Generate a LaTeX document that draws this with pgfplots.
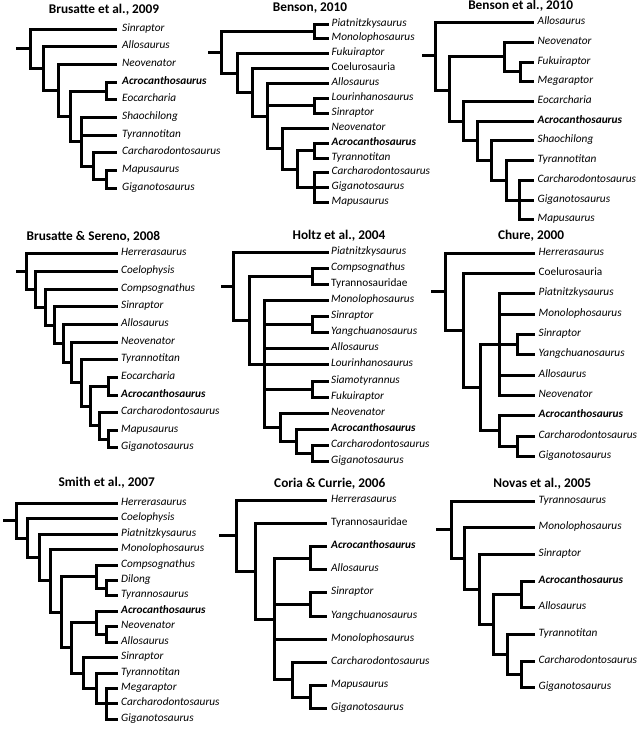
\documentclass[border=0pt]{standalone}
\usepackage{fontspec}
\setmainfont{Carlito}
\usepackage{pgfplots}
\pgfplotsset{compat=1.18}
\newcommand\lblfont{\fontsize{11.3bp}{13bp}\selectfont\itshape}
\newcommand\ttlfont{\fontsize{13.3bp}{15bp}\selectfont\bfseries}
\newcommand\lab[3]{\node[anchor=mid west,inner sep=0pt,font=\lblfont] at (axis cs:#1,#2) {#3};}
\newcommand\ttl[3]{\node[anchor=mid,inner sep=0pt,font=\ttlfont] at (axis cs:#1,#2) {#3};}
\begin{document}
\begin{tikzpicture}
\begin{axis}[
  width=642bp, height=729bp, scale only axis,
  xmin=0, xmax=642, ymin=0, ymax=729, y dir=reverse,
  hide axis, clip=false, unbounded coords=jump,
  cycle list={{black, mark=none}},
  every axis plot post/.append style={black, line width=3bp, line join=miter, line cap=butt, mark=none, forget plot},
]
% ---------- Panel 1: Brusatte et al., 2009
\addplot coordinates {
(16,48.5)(30.5,48.5)(nan,nan)
(30.5,48.5)(30.5,29.5)(117,29.5)(nan,nan)
(30.5,48.5)(30.5,68.5)(43.5,68.5)(nan,nan)
(43.5,68.5)(43.5,46.5)(117,46.5)(nan,nan)
(43.5,68.5)(43.5,90.5)(58.5,90.5)(nan,nan)
(58.5,90.5)(58.5,64.5)(117,64.5)(nan,nan)
(58.5,90.5)(58.5,116.5)(70.5,116.5)(nan,nan)
(70.5,116.5)(70.5,91.5)(106.5,91.5)(nan,nan)
(70.5,116.5)(70.5,141.5)(81.5,141.5)(nan,nan)
(106.5,91.5)(106.5,82.5)(117,82.5)(nan,nan)
(106.5,91.5)(106.5,99.5)(117,99.5)(nan,nan)
(81.5,141.5)(81.5,117.5)(117,117.5)(nan,nan)
(81.5,141.5)(81.5,135.5)(117,135.5)(nan,nan)
(81.5,141.5)(81.5,166.5)(93.5,166.5)(nan,nan)
(93.5,166.5)(93.5,152.5)(117,152.5)(nan,nan)
(93.5,166.5)(93.5,179.5)(106.5,179.5)(nan,nan)
(106.5,179.5)(106.5,170.5)(117,170.5)(nan,nan)
(106.5,179.5)(106.5,188.5)(117,188.5)
};
\ttl{104}{11}{Brusatte et al., 2009}
\lab{122}{29.5}{Sinraptor}
\lab{122}{46.5}{Allosaurus}
\lab{122}{64.5}{Neovenator}
\lab{122}{82.5}{\bfseries Acrocanthosaurus}
\lab{122}{99.5}{Eocarcharia}
\lab{122}{117.5}{Shaochilong}
\lab{122}{135.5}{Tyrannotitan}
\lab{122}{152.5}{Carcharodontosaurus}
\lab{122}{170.5}{Mapusaurus}
\lab{122}{188.5}{Giganotosaurus}
% ---------- Panel 2: Benson, 2010
\addplot coordinates {
(208,52.5)(221.5,52.5)(nan,nan)
(221.5,52.5)(221.5,31.5)(314.5,31.5)(nan,nan)
(221.5,52.5)(221.5,73.5)(237.5,73.5)(nan,nan)
(314.5,31.5)(314.5,24.5)(329,24.5)(nan,nan)
(314.5,31.5)(314.5,38.5)(329,38.5)(nan,nan)
(237.5,73.5)(237.5,53.5)(329,53.5)(nan,nan)
(237.5,73.5)(237.5,92.5)(252.5,92.5)(nan,nan)
(252.5,92.5)(252.5,68.5)(329,68.5)(nan,nan)
(252.5,92.5)(252.5,116.5)(267.5,116.5)(nan,nan)
(267.5,116.5)(267.5,83.5)(329,83.5)(nan,nan)
(267.5,116.5)(267.5,105.5)(314.5,105.5)(nan,nan)
(267.5,116.5)(267.5,148.5)(282.5,148.5)(nan,nan)
(314.5,105.5)(314.5,98.5)(329,98.5)(nan,nan)
(314.5,105.5)(314.5,113.5)(329,113.5)(nan,nan)
(282.5,148.5)(282.5,128.5)(329,128.5)(nan,nan)
(282.5,148.5)(282.5,169.5)(297.5,169.5)(nan,nan)
(297.5,169.5)(297.5,150.5)(314.5,150.5)(nan,nan)
(297.5,169.5)(297.5,187.5)(314.5,187.5)(nan,nan)
(314.5,150.5)(314.5,143.5)(329,143.5)(nan,nan)
(314.5,150.5)(314.5,158.5)(329,158.5)(nan,nan)
(314.5,187.5)(314.5,172.5)(329,172.5)(nan,nan)
(314.5,187.5)(329,187.5)(nan,nan)
(314.5,187.5)(314.5,202.5)(329,202.5)
};
\ttl{310}{9.5}{Benson, 2010}
\lab{331.5}{24.5}{Piatnitzkysaurus}
\lab{331.5}{38.5}{Monolophosaurus}
\lab{331.5}{53.5}{Fukuiraptor}
\lab{331.5}{68.5}{\upshape Coelurosauria}
\lab{331.5}{83.5}{Allosaurus}
\lab{331.5}{98.5}{Lourinhanosaurus}
\lab{331.5}{113.5}{Sinraptor}
\lab{331.5}{128.5}{Neovenator}
\lab{331.5}{143.5}{\bfseries Acrocanthosaurus}
\lab{331.5}{158.5}{Tyrannotitan}
\lab{331.5}{172.5}{Carcharodontosaurus}
\lab{331.5}{187.5}{Giganotosaurus}
\lab{331.5}{202.5}{Mapusaurus}
% ---------- Panel 3: Benson et al., 2010
\addplot coordinates {
(422,55.5)(435.5,55.5)(nan,nan)
(435.5,55.5)(435.5,22.5)(534,22.5)(nan,nan)
(435.5,55.5)(435.5,90.5)(449.5,90.5)(nan,nan)
(449.5,90.5)(449.5,56.5)(504.5,56.5)(nan,nan)
(449.5,90.5)(449.5,121.5)(463.5,121.5)(nan,nan)
(504.5,56.5)(504.5,42.5)(534,42.5)(nan,nan)
(504.5,56.5)(504.5,71.5)(520.5,71.5)(nan,nan)
(520.5,71.5)(520.5,62.5)(534,62.5)(nan,nan)
(520.5,71.5)(520.5,81.5)(534,81.5)(nan,nan)
(463.5,121.5)(463.5,101.5)(534,101.5)(nan,nan)
(463.5,121.5)(463.5,140.5)(477.5,140.5)(nan,nan)
(477.5,140.5)(477.5,121.5)(534,121.5)(nan,nan)
(477.5,140.5)(477.5,160.5)(491.5,160.5)(nan,nan)
(491.5,160.5)(491.5,140.5)(534,140.5)(nan,nan)
(491.5,160.5)(491.5,180.5)(506.5,180.5)(nan,nan)
(506.5,180.5)(506.5,160.5)(534,160.5)(nan,nan)
(506.5,180.5)(506.5,200.5)(519.5,200.5)(nan,nan)
(519.5,200.5)(519.5,180.5)(534,180.5)(nan,nan)
(519.5,200.5)(534,200.5)(nan,nan)
(519.5,200.5)(519.5,219.5)(534,219.5)
};
\ttl{520.7}{7.5}{Benson et al., 2010}
\lab{537.5}{22.5}{Allosaurus}
\lab{537.5}{42.5}{Neovenator}
\lab{537.5}{62.5}{Fukuiraptor}
\lab{537.5}{81.5}{Megaraptor}
\lab{537.5}{101.5}{Eocarcharia}
\lab{537.5}{121.5}{\bfseries Acrocanthosaurus}
\lab{537.5}{140.5}{Shaochilong}
\lab{537.5}{160.5}{Tyrannotitan}
\lab{537.5}{180.5}{Carcharodontosaurus}
\lab{537.5}{200.5}{Giganotosaurus}
\lab{537.5}{219.5}{Mapusaurus}
% ---------- Panel 4: Brusatte & Sereno, 2008
\addplot coordinates {
(16,271.5)(26.5,271.5)(nan,nan)
(26.5,271.5)(26.5,253.5)(118,253.5)(nan,nan)
(26.5,271.5)(26.5,289.5)(35.5,289.5)(nan,nan)
(35.5,289.5)(35.5,271.5)(118,271.5)(nan,nan)
(35.5,289.5)(35.5,307.5)(45.5,307.5)(nan,nan)
(45.5,307.5)(45.5,289.5)(118,289.5)(nan,nan)
(45.5,307.5)(45.5,325.5)(54.5,325.5)(nan,nan)
(54.5,325.5)(54.5,306.5)(118,306.5)(nan,nan)
(54.5,325.5)(54.5,343.5)(63.5,343.5)(nan,nan)
(63.5,343.5)(63.5,324.5)(118,324.5)(nan,nan)
(63.5,343.5)(63.5,362.5)(71.5,362.5)(nan,nan)
(71.5,362.5)(71.5,342.5)(118,342.5)(nan,nan)
(71.5,362.5)(71.5,382.5)(81.5,382.5)(nan,nan)
(81.5,382.5)(81.5,359.5)(118,359.5)(nan,nan)
(81.5,382.5)(81.5,406.5)(90.5,406.5)(nan,nan)
(90.5,406.5)(90.5,386.5)(108.5,386.5)(nan,nan)
(90.5,406.5)(90.5,425.5)(99.5,425.5)(nan,nan)
(108.5,386.5)(108.5,377.5)(118,377.5)(nan,nan)
(108.5,386.5)(108.5,395.5)(118,395.5)(nan,nan)
(99.5,425.5)(99.5,412.5)(118,412.5)(nan,nan)
(99.5,425.5)(99.5,439.5)(108.5,439.5)(nan,nan)
(108.5,439.5)(108.5,430.5)(118,430.5)(nan,nan)
(108.5,439.5)(108.5,447.5)(118,447.5)
};
\ttl{93.3}{238}{Brusatte \& Sereno, 2008}
\lab{121}{253.5}{Herrerasaurus}
\lab{121}{271.5}{Coelophysis}
\lab{121}{289.5}{Compsognathus}
\lab{121}{306.5}{Sinraptor}
\lab{121}{324.5}{Allosaurus}
\lab{121}{342.5}{Neovenator}
\lab{121}{359.5}{Tyrannotitan}
\lab{121}{377.5}{Eocarcharia}
\lab{121}{395.5}{\bfseries Acrocanthosaurus}
\lab{121}{412.5}{Carcharodontosaurus}
\lab{121}{430.5}{Mapusaurus}
\lab{121}{447.5}{Giganotosaurus}
% ---------- Panel 5: Holtz et al., 2004
\addplot coordinates {
(221,286.5)(233.5,286.5)(nan,nan)
(233.5,286.5)(233.5,252.5)(329,252.5)(nan,nan)
(233.5,286.5)(233.5,320.5)(249.5,320.5)(nan,nan)
(249.5,320.5)(249.5,276.5)(312.5,276.5)(nan,nan)
(249.5,320.5)(249.5,364.5)(264.5,364.5)(nan,nan)
(312.5,276.5)(312.5,268.5)(329,268.5)(nan,nan)
(312.5,276.5)(312.5,284.5)(329,284.5)(nan,nan)
(264.5,364.5)(264.5,300.5)(329,300.5)(nan,nan)
(264.5,364.5)(264.5,324.5)(312.5,324.5)(nan,nan)
(264.5,364.5)(264.5,348.5)(329,348.5)(nan,nan)
(264.5,364.5)(329,364.5)(nan,nan)
(264.5,364.5)(264.5,389.5)(312.5,389.5)(nan,nan)
(264.5,364.5)(264.5,427.5)(280.5,427.5)(nan,nan)
(312.5,324.5)(312.5,316.5)(329,316.5)(nan,nan)
(312.5,324.5)(312.5,332.5)(329,332.5)(nan,nan)
(312.5,389.5)(312.5,381.5)(329,381.5)(nan,nan)
(312.5,389.5)(312.5,397.5)(329,397.5)(nan,nan)
(280.5,427.5)(280.5,413.5)(329,413.5)(nan,nan)
(280.5,427.5)(280.5,441.5)(296.5,441.5)(nan,nan)
(296.5,441.5)(296.5,429.5)(329,429.5)(nan,nan)
(296.5,441.5)(296.5,453.5)(312.5,453.5)(nan,nan)
(312.5,453.5)(312.5,445.5)(329,445.5)(nan,nan)
(312.5,453.5)(312.5,461.5)(329,461.5)
};
\ttl{339}{237.3}{Holtz et al., 2004}
\lab{331}{252.5}{Piatnitzkysaurus}
\lab{331}{268.5}{Compsognathus}
\lab{331}{284.5}{\upshape Tyrannosauridae}
\lab{331}{300.5}{Monolophosaurus}
\lab{331}{316.5}{Sinraptor}
\lab{331}{332.5}{Yangchuanosaurus}
\lab{331}{348.5}{Allosaurus}
\lab{331}{364.5}{Lourinhanosaurus}
\lab{331}{381.5}{Siamotyrannus}
\lab{331}{397.5}{Fukuiraptor}
\lab{331}{413.5}{Neovenator}
\lab{331}{429.5}{\bfseries Acrocanthosaurus}
\lab{331}{445.5}{Carcharodontosaurus}
\lab{331}{461.5}{Giganotosaurus}
% ---------- Panel 6: Chure, 2000
\addplot coordinates {
(431,291.5)(445.5,291.5)(nan,nan)
(445.5,291.5)(445.5,253.5)(535,253.5)(nan,nan)
(445.5,291.5)(445.5,330.5)(463.5,330.5)(nan,nan)
(463.5,330.5)(463.5,273.5)(535,273.5)(nan,nan)
(463.5,330.5)(463.5,387.5)(480.5,387.5)(nan,nan)
(480.5,387.5)(480.5,344.5)(499.5,344.5)(nan,nan)
(480.5,387.5)(480.5,430.5)(499.5,430.5)(nan,nan)
(499.5,344.5)(499.5,293.5)(535,293.5)(nan,nan)
(499.5,344.5)(499.5,314.5)(535,314.5)(nan,nan)
(499.5,344.5)(517.5,344.5)(nan,nan)
(499.5,344.5)(499.5,375.5)(535,375.5)(nan,nan)
(499.5,344.5)(499.5,395.5)(535,395.5)(nan,nan)
(517.5,344.5)(517.5,334.5)(535,334.5)(nan,nan)
(517.5,344.5)(517.5,354.5)(535,354.5)(nan,nan)
(499.5,430.5)(499.5,415.5)(535,415.5)(nan,nan)
(499.5,430.5)(499.5,446.5)(517.5,446.5)(nan,nan)
(517.5,446.5)(517.5,436.5)(535,436.5)(nan,nan)
(517.5,446.5)(517.5,456.5)(535,456.5)
};
\ttl{531}{237.3}{Chure, 2000}
\lab{538.5}{253.5}{Herrerasaurus}
\lab{538.5}{273.5}{\upshape Coelurosauria}
\lab{538.5}{293.5}{Piatnitzkysaurus}
\lab{538.5}{314.5}{Monolophosaurus}
\lab{538.5}{334.5}{Sinraptor}
\lab{538.5}{354.5}{Yangchuanosaurus}
\lab{538.5}{375.5}{Allosaurus}
\lab{538.5}{395.5}{Neovenator}
\lab{538.5}{415.5}{\bfseries Acrocanthosaurus}
\lab{538.5}{436.5}{Carcharodontosaurus}
\lab{538.5}{456.5}{Giganotosaurus}
% ---------- Panel 7: Smith et al., 2007
\addplot coordinates {
(3,520.5)(16.5,520.5)(nan,nan)
(16.5,520.5)(16.5,503.5)(118,503.5)(nan,nan)
(16.5,520.5)(16.5,538.5)(27.5,538.5)(nan,nan)
(27.5,538.5)(27.5,518.5)(118,518.5)(nan,nan)
(27.5,538.5)(27.5,557.5)(39.5,557.5)(nan,nan)
(39.5,557.5)(39.5,534.5)(118,534.5)(nan,nan)
(39.5,557.5)(39.5,580.5)(50.5,580.5)(nan,nan)
(50.5,580.5)(50.5,549.5)(118,549.5)(nan,nan)
(50.5,580.5)(50.5,612.5)(61.5,612.5)(nan,nan)
(61.5,612.5)(61.5,576.5)(96.5,576.5)(nan,nan)
(61.5,612.5)(61.5,647.5)(71.5,647.5)(nan,nan)
(96.5,576.5)(96.5,565.5)(118,565.5)(nan,nan)
(96.5,576.5)(96.5,588.5)(106.5,588.5)(nan,nan)
(106.5,588.5)(106.5,580.5)(118,580.5)(nan,nan)
(106.5,588.5)(106.5,595.5)(118,595.5)(nan,nan)
(71.5,647.5)(71.5,622.5)(96.5,622.5)(nan,nan)
(71.5,647.5)(71.5,673.5)(83.5,673.5)(nan,nan)
(96.5,622.5)(96.5,611.5)(118,611.5)(nan,nan)
(96.5,622.5)(96.5,634.5)(106.5,634.5)(nan,nan)
(106.5,634.5)(106.5,626.5)(118,626.5)(nan,nan)
(106.5,634.5)(106.5,642.5)(118,642.5)(nan,nan)
(83.5,673.5)(83.5,657.5)(118,657.5)(nan,nan)
(83.5,673.5)(83.5,688.5)(96.5,688.5)(nan,nan)
(96.5,688.5)(96.5,673.5)(118,673.5)(nan,nan)
(96.5,688.5)(96.5,703.5)(106.5,703.5)(nan,nan)
(106.5,703.5)(106.5,688.5)(118,688.5)(nan,nan)
(106.5,703.5)(118,703.5)(nan,nan)
(106.5,703.5)(106.5,719.5)(118,719.5)
};
\ttl{106.7}{484}{Smith et al., 2007}
\lab{121}{503.5}{Herrerasaurus}
\lab{121}{518.5}{Coelophysis}
\lab{121}{534.5}{Piatnitzkysaurus}
\lab{121}{549.5}{Monolophosaurus}
\lab{121}{565.5}{Compsognathus}
\lab{121}{580.5}{Dilong}
\lab{121}{595.5}{Tyrannosaurus}
\lab{121}{611.5}{\bfseries Acrocanthosaurus}
\lab{121}{626.5}{Neovenator}
\lab{121}{642.5}{Allosaurus}
\lab{121}{657.5}{Sinraptor}
\lab{121}{673.5}{Tyrannotitan}
\lab{121}{688.5}{Megaraptor}
\lab{121}{703.5}{Carcharodontosaurus}
\lab{121}{719.5}{Giganotosaurus}
% ---------- Panel 8: Coria & Currie, 2006
\addplot coordinates {
(219,535.5)(236.5,535.5)(nan,nan)
(236.5,535.5)(236.5,500.5)(327,500.5)(nan,nan)
(236.5,535.5)(236.5,571.5)(255.5,571.5)(nan,nan)
(255.5,571.5)(255.5,523.5)(327,523.5)(nan,nan)
(255.5,571.5)(255.5,619.5)(274.5,619.5)(nan,nan)
(274.5,619.5)(274.5,558.5)(310.5,558.5)(nan,nan)
(274.5,619.5)(274.5,604.5)(310.5,604.5)(nan,nan)
(274.5,619.5)(274.5,639.5)(327,639.5)(nan,nan)
(274.5,619.5)(274.5,679.5)(292.5,679.5)(nan,nan)
(310.5,558.5)(310.5,546.5)(327,546.5)(nan,nan)
(310.5,558.5)(310.5,569.5)(327,569.5)(nan,nan)
(310.5,604.5)(310.5,592.5)(327,592.5)(nan,nan)
(310.5,604.5)(310.5,616.5)(327,616.5)(nan,nan)
(292.5,679.5)(292.5,662.5)(327,662.5)(nan,nan)
(292.5,679.5)(292.5,697.5)(310.5,697.5)(nan,nan)
(310.5,697.5)(310.5,685.5)(327,685.5)(nan,nan)
(310.5,697.5)(310.5,708.5)(327,708.5)
};
\ttl{329.8}{485}{Coria \& Currie, 2006}
\lab{331}{500.5}{Herrerasaurus}
\lab{331}{523.5}{\upshape Tyrannosauridae}
\lab{331}{546.5}{\bfseries Acrocanthosaurus}
\lab{331}{569.5}{Allosaurus}
\lab{331}{592.5}{Sinraptor}
\lab{331}{616.5}{Yangchuanosaurus}
\lab{331}{639.5}{Monolophosaurus}
\lab{331}{662.5}{Carcharodontosaurus}
\lab{331}{685.5}{Mapusaurus}
\lab{331}{708.5}{Giganotosaurus}
% ---------- Panel 9: Novas et al., 2005
\addplot coordinates {
(436,529.5)(451.5,529.5)(nan,nan)
(451.5,529.5)(451.5,501.5)(535,501.5)(nan,nan)
(451.5,529.5)(451.5,558.5)(464.5,558.5)(nan,nan)
(464.5,558.5)(464.5,527.5)(535,527.5)(nan,nan)
(464.5,558.5)(464.5,589.5)(479.5,589.5)(nan,nan)
(479.5,589.5)(479.5,554.5)(535,554.5)(nan,nan)
(479.5,589.5)(479.5,624.5)(493.5,624.5)(nan,nan)
(493.5,624.5)(493.5,594.5)(521.5,594.5)(nan,nan)
(493.5,624.5)(493.5,654.5)(507.5,654.5)(nan,nan)
(521.5,594.5)(521.5,581.5)(535,581.5)(nan,nan)
(521.5,594.5)(521.5,607.5)(535,607.5)(nan,nan)
(507.5,654.5)(507.5,634.5)(535,634.5)(nan,nan)
(507.5,654.5)(507.5,674.5)(521.5,674.5)(nan,nan)
(521.5,674.5)(521.5,661.5)(535,661.5)(nan,nan)
(521.5,674.5)(521.5,687.5)(535,687.5)
};
\ttl{542.2}{485}{Novas et al., 2005}
\lab{538.5}{501.5}{Tyrannosaurus}
\lab{538.5}{527.5}{Monolophosaurus}
\lab{538.5}{554.5}{Sinraptor}
\lab{538.5}{581.5}{\bfseries Acrocanthosaurus}
\lab{538.5}{607.5}{Allosaurus}
\lab{538.5}{634.5}{Tyrannotitan}
\lab{538.5}{661.5}{Carcharodontosaurus}
\lab{538.5}{687.5}{Giganotosaurus}
\end{axis}
\pgfresetboundingbox
\path (current axis.south west) rectangle (current axis.north east);
\end{tikzpicture}
\end{document}
